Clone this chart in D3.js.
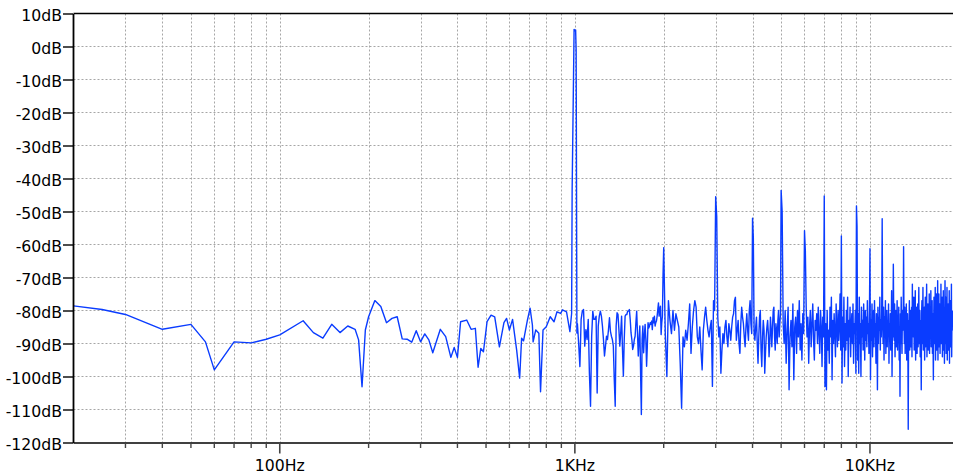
<!DOCTYPE html>
<html>
<head>
<meta charset="utf-8">
<script src="https://cdn.jsdelivr.net/npm/d3@7"></script>
<style>
  html, body { margin: 0; padding: 0; background: #fff; }
  svg { display: block; }
</style>
</head>
<body>
<script>
// ---------------- DATA ----------------
const yTicks = [10, 0, -10, -20, -30, -40, -50, -60, -70, -80, -90, -100, -110, -120];
const yTickLabels = ["10dB", "0dB", "-10dB", "-20dB", "-30dB", "-40dB", "-50dB", "-60dB", "-70dB", "-80dB", "-90dB", "-100dB", "-110dB", "-120dB"];
const xMajorTicks = [100, 1000, 10000];
const xMajorLabels = ["100Hz", "1KHz", "10KHz"];
const xMinorTicks = [20, 30, 40, 50, 60, 70, 80, 90, 200, 300, 400, 500, 600, 700, 800, 900,
  2000, 3000, 4000, 5000, 6000, 7000, 8000, 9000, 20000];

// Low-frequency part of the spectrum and the 1 kHz fundamental (Hz, dB)
const lowHz = [20, 25, 30, 40, 50, 56, 60, 70, 80, 90,
  100, 120, 130, 140, 150, 160, 170, 180, 185, 190,
  195, 200, 210, 220, 230, 240, 250, 260, 270, 280,
  290, 300, 310, 320, 330, 350, 365, 380, 390, 400,
  410, 430, 445, 460, 470, 480, 490, 504, 520, 535,
  555, 575, 587, 600, 615, 635, 650, 660, 670, 690,
  705, 718, 722, 737, 755, 765, 780, 800, 825, 850,
  870, 895, 908, 937, 962, 975, 979, 994, 1000, 1006,
  1010, 1013, 1016];
const lowDb = [-78.6, -79.7, -81.2, -85.7, -84.2, -89.5, -98, -89.5, -89.8, -88.7,
  -87.4, -83.1, -86.7, -88.4, -84.2, -86.7, -84.7, -85.7, -88.9, -103.1,
  -85.9, -81.9, -77, -78.8, -83.7, -82.4, -81.9, -88.6, -88.7, -89.6,
  -86.1, -89.5, -87.1, -88.9, -92.8, -85.7, -87.9, -94.2, -91.2, -94.2,
  -83.4, -82.9, -85.7, -85.4, -97.2, -91.5, -92.5, -83.4, -81.4, -81.9,
  -91, -83.7, -82.4, -85.9, -82.7, -92, -100.5, -88.4, -89.2, -83.1,
  -79.3, -84.4, -89.5, -85.9, -86.9, -104.6, -85.9, -84.9, -81.9, -83.4,
  -80.4, -80.9, -79.8, -80.4, -86.4, -80.9, -43.3, 5.2, 4.8, 5.0,
  -1.1, -41.4, -86.8];

// FFT bins 1020 Hz .. 1990 Hz (10 Hz bins)
const bins1StartHz = 1020, bins1StepHz = 10;
const bins1Db = [-84, -90, -97, -82.7, -80.2, -79.7, -90.8, -85.8, -88.8, -82.7,
  -98.9, -109, -87.8, -80.2, -82.7, -82.7, -81.7, -105, -84.7, -81.7,
  -80.2, -81.7, -84.7, -88.8, -93.8, -90.8, -87.8, -88.8, -85.8, -82.2,
  -86.3, -87.8, -88.8, -90.8, -101, -109, -84.7, -80.7, -81.2, -85.8,
  -90.8, -86.8, -81.7, -91.8, -99.9, -88.8, -81.7, -81.2, -81.2, -80.2,
  -80.2, -79.7, -82.7, -86.8, -88.8, -91.8, -90.8, -88.8, -87.8, -83.7,
  -80.2, -86.8, -93.8, -88.8, -84.7, -98.9, -111.5, -88.8, -84.7, -92.8,
  -87.8, -84.2, -88.8, -96.9, -90.8, -83.7, -85.3, -84.7, -83.7, -84.2,
  -83.2, -85.8, -82.2, -83.7, -81.7, -84.7, -83.7, -83.2, -81.7, -79.7,
  -77.7, -81.7, -79.7, -78.7, -87.3, -83.7, -81.7, -69];

// FFT bins 2000 Hz .. 4975 Hz (25 Hz bins)
const bins2StartHz = 2000, bins2StepHz = 25;
const bins2Db = [-61, -87, -100, -77, -83, -87, -80, -86, -81, -83,
  -85, -96, -109.6, -88, -91, -86, -89, -84, -78, -93,
  -85, -80, -77, -79, -88, -90, -85, -92, -98, -86,
  -82, -79, -83, -86, -88, -85, -83, -103, -77, -80,
  -45.5, -51.5, -82, -88, -85, -99, -92, -87, -90, -85,
  -83, -88, -91, -84, -86, -89, -85, -82, -81, -77,
  -76, -89, -86, -83, -90, -93, -84, -79, -82, -84,
  -88, -91, -85, -81, -86, -89, -80, -77, -84, -87,
  -52, -58, -87, -89, -85, -82, -90, -96, -88, -82,
  -80, -92, -97, -88, -83, -86, -99, -93, -88, -85,
  -83, -87, -94, -90, -82, -86, -91, -85, -80, -79,
  -88, -92, -84, -86, -90, -83, -80, -88, -84, -81];

// FFT bins 5000 Hz .. 19040 Hz (40 Hz bins)
const bins3StartHz = 5000, bins3StepHz = 40;
const bins3Db = [
  -43.6, -50, -84, -90, -80, -96, -86, -79, -104, -88, -83, -91, -78, -101, -85, -82, -93, -80, -88, -77, -92, -84, -95, -81, -87,
  -55.8, -62, -79, -88, -82, -96, -85, -80, -91, -84, -78, -89, -95, -83, -86, -81, -90, -79, -87, -93, -80, -85, -97, -82, -88,
  -45.3, -103, -84, -104, -80, -92, -86, -96, -79, -88, -76, -101, -83, -90, -81, -87, -94, -78, -85, -91, -80, -89, -84, -75, -92,
  -57.4, -102, -82, -91, -76, -97, -84, -92, -80, -89, -76, -100, -83, -88, -79, -94, -85, -81, -90, -78, -96, -84, -87, -80, -99,
  -48.3, -54.5, -95, -81, -99, -76, -90, -84, -100, -79, -88, -83, -92, -78, -86, -95, -80, -89, -82, -91, -77, -87, -84, -93, -80,
  -61.3, -101, -83, -89, -78, -94, -85, -80, -91, -77, -88, -84, -96, -81, -87, -104, -79, -90, -82, -86, -76, -92, -83, -88, -80,
  -52.2, -84, -90, -79, -95, -82, -88, -77, -93, -85, -80, -91, -83, -87, -78, -96, -84, -89, -81, -92, -86, -74, -100, -83, -88,
  -66, -83, -89, -78, -94, -84, -80, -91, -86, -77, -92, -82, -88, -79, -95, -85, -106, -81, -90, -76, -87, -93, -80, -86, -83,
  -60.7, -84, -90, -79, -93, -82, -87, -78, -95, -85, -81, -89, -116, -83, -88, -77, -92, -84, -80, -91, -86, -79, -94, -72, -87,
  -80, -88, -76, -92, -83, -87, -74, -95, -82, -89, -79, -93, -85, -78, -91, -84, -73, -90, -86, -80, -94, -83, -88, -104, -81,
  -77, -90, -84, -73, -92, -82, -88, -79, -95, -85, -76, -91, -83, -87, -72, -94, -81, -89, -78, -92, -84, -86, -75, -93, -82,
  -79, -88, -74, -91, -83, -86, -77, -93, -81, -89, -101, -84, -76, -90, -82, -87, -73, -95, -80, -88, -75, -92, -84, -85, -71,
  -95, -82, -88, -75, -91, -84, -78, -93, -80, -87, -72, -90, -83, -86, -76, -94, -81, -89, -74, -92, -85, -79, -96, -83, -71,
  -84, -90, -76, -93, -82, -87, -73, -95, -80, -89, -78, -92, -84, -86, -74, -96, -81, -88, -77, -91, -83, -85, -72, -94, -82, -86, -80];

// ---------------- CHART ----------------
const W = 953, H = 476;
const plotLeft = 73.5, plotTop = 13.5, plotBottom = 442.5, plotRight = 958.8;
const FONT = "'DejaVu Sans', 'Liberation Sans', sans-serif";

const svg = d3.select("body").append("svg")
  .attr("width", W).attr("height", H)
  .attr("viewBox", `0 0 ${W} ${H}`);

const x = d3.scaleLog().domain([20, 20000]).range([plotLeft, plotRight]);
const y = d3.scaleLinear().domain([-120, 10]).range([plotBottom, plotTop]);

// grid
const gridColor = "#a6a6a6";
const gridHz = xMinorTicks.concat(xMajorTicks).filter(d => d > 20);
svg.append("g").attr("class", "vgrid")
  .selectAll("line").data(gridHz).join("line")
  .attr("x1", d => Math.round(x(d)) + 0.5).attr("x2", d => Math.round(x(d)) + 0.5)
  .attr("y1", plotTop).attr("y2", plotBottom)
  .attr("stroke", gridColor).attr("stroke-width", 1).attr("stroke-dasharray", "2,2");
svg.append("g").attr("class", "hgrid")
  .selectAll("line").data(yTicks.filter(d => d < 10 && d > -120)).join("line")
  .attr("x1", plotLeft).attr("x2", W)
  .attr("y1", d => y(d)).attr("y2", d => y(d))
  .attr("stroke", gridColor).attr("stroke-width", 1).attr("stroke-dasharray", "2,2");

// series
const points = [];
lowHz.forEach((f, i) => points.push([f, lowDb[i]]));
bins1Db.forEach((v, i) => points.push([bins1StartHz + i * bins1StepHz, v]));
bins2Db.forEach((v, i) => points.push([bins2StartHz + i * bins2StepHz, v]));
bins3Db.forEach((v, i) => points.push([bins3StartHz + i * bins3StepHz, v]));

svg.append("clipPath").attr("id", "clip")
  .append("rect").attr("x", plotLeft).attr("y", plotTop - 1)
  .attr("width", W - plotLeft).attr("height", plotBottom - plotTop + 1);

const line = d3.line().x(d => x(d[0])).y(d => y(d[1]));
svg.append("path")
  .datum(points)
  .attr("clip-path", "url(#clip)")
  .attr("d", line)
  .attr("fill", "none")
  .attr("stroke", "#0a3cff")
  .attr("stroke-width", 1.4)
  .attr("stroke-linejoin", "round");

// top border
svg.append("line")
  .attr("x1", plotLeft).attr("x2", W).attr("y1", plotTop).attr("y2", plotTop)
  .attr("stroke", "#000").attr("stroke-width", 1.6);

// y axis
const yLabel = new Map(yTicks.map((v, i) => [v, yTickLabels[i]]));
svg.append("g")
  .attr("transform", `translate(${plotLeft - 0.5},0)`)
  .call(d3.axisLeft(y).tickValues(yTicks).tickFormat(d => yLabel.get(d))
    .tickSizeInner(10).tickSizeOuter(0).tickPadding(1))
  .call(g => g.attr("font-family", null).attr("font-size", null))
  .call(g => g.select(".domain").attr("stroke", "#000").attr("stroke-width", 1.8))
  .call(g => g.selectAll(".tick line").attr("stroke", "#000").attr("stroke-width", 1.4))
  .call(g => g.selectAll("text").attr("fill", "#000")
    .style("font-family", FONT).style("font-size", "15.7px").attr("dy", "0.47em"));

// x axis (major)
const xLabel = new Map(xMajorTicks.map((v, i) => [v, xMajorLabels[i]]));
svg.append("g")
  .attr("transform", `translate(-0.5,${plotBottom})`)
  .call(d3.axisBottom(x).tickValues(xMajorTicks).tickFormat(d => xLabel.get(d))
    .tickSizeInner(11).tickSizeOuter(0).tickPadding(6))
  .call(g => g.attr("font-family", null).attr("font-size", null))
  .call(g => g.select(".domain").attr("stroke", "#000").attr("stroke-width", 1.6))
  .call(g => g.selectAll(".tick line").attr("stroke", "#444").attr("stroke-width", 1.6))
  .call(g => g.selectAll("text").attr("fill", "#000")
    .style("font-family", FONT).style("font-size", "15.7px"));

// x axis (minor ticks)
svg.append("g")
  .attr("transform", `translate(-0.5,${plotBottom})`)
  .call(d3.axisBottom(x).tickValues(xMinorTicks.filter(d => d > 20)).tickFormat(() => "")
    .tickSizeInner(5.5).tickSizeOuter(0))
  .call(g => g.select(".domain").remove())
  .call(g => g.selectAll(".tick line").attr("stroke", "#444").attr("stroke-width", 1.4));
</script>
</body>
</html>
